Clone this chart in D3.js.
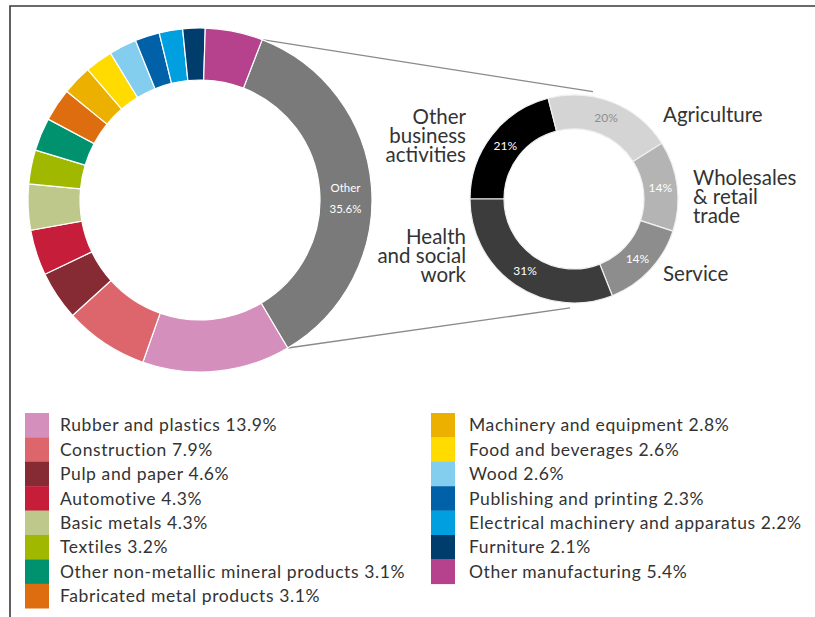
<!DOCTYPE html>
<html>
<head>
<meta charset="utf-8">
<script src="https://cdn.jsdelivr.net/npm/d3@7"></script>
<style>
  body { margin: 0; background: #fff; }
  text { font-family: Lato, "Noto Sans", sans-serif; }
</style>
</head>
<body>
<svg id="chart" width="815" height="617"></svg>
<script>
// big donut (manufacturing sectors), clockwise from "Other"
var sectors = ["Other", "Rubber and plastics", "Construction", "Pulp and paper", "Automotive",
  "Basic metals", "Textiles", "Other non-metallic mineral products", "Fabricated metal products",
  "Machinery and equipment", "Food and beverages", "Wood", "Publishing and printing",
  "Electrical machinery and apparatus", "Furniture", "Other manufacturing"];
var sectorValues = [35.6, 13.9, 7.9, 4.6, 4.3, 4.3, 3.2, 3.1, 3.1, 2.8, 2.6, 2.6, 2.3, 2.2, 2.1, 5.4];
var sectorColors = ["#7a7a7a", "#d58fbc", "#dc666c", "#862b33", "#c51d3a", "#bec88a", "#a0b900",
  "#00926f", "#de6d10", "#ecb100", "#ffdb00", "#83cdee", "#0061a8", "#00a0e0", "#003d6d", "#b6418d"];

// small donut (breakdown of "Other"), clockwise from 9 o'clock
var otherCats = ["Other business activities", "Agriculture", "Wholesales & retail trade", "Service", "Health and social work"];
var otherValues = [21, 20, 14, 14, 31];
var otherColors = ["#000000", "#d4d4d4", "#b4b4b4", "#8d8d8d", "#3c3c3c"];
var otherLabelColors = ["#fff", "#8f8f8f", "#fff", "#fff", "#fff"];

var svg = d3.select("#chart");
var deg = Math.PI / 180;

// frame
svg.append("path")
    .attr("d", "M10,617V6H815")
    .attr("fill", "none")
    .attr("stroke", "#3a3a3a")
    .attr("stroke-width", 1.6);

// ---- big donut
var bigC = [200, 200], bigR = 172, bigr = 120;
var bigStart = 21.2 * deg;

var bigPie = d3.pie().sort(null)
    .startAngle(bigStart).endAngle(bigStart + 2 * Math.PI)
    .value(d => d.v);
var bigArc = d3.arc().innerRadius(bigr).outerRadius(bigR);

var bigData = bigPie(sectors.map((s, i) => ({ name: s, v: sectorValues[i], c: sectorColors[i] })));

// small donut geometry (needed for connector lines)
var smC = [574, 199], smR = 104, smr = 70;

// connector lines from the "Other" slice to the small donut
var otherSlice = bigData[0];
var polar = (c, r, a) => [c[0] + r * Math.sin(a), c[1] - r * Math.cos(a)];
var lineG = svg.append("g");
[[otherSlice.startAngle, 10 * deg], [otherSlice.endAngle, 182 * deg]].forEach(function (p) {
  var a = polar(bigC, bigR, p[0]), b = polar(smC, smR + 5, p[1]);
  lineG.append("line")
      .attr("x1", a[0]).attr("y1", a[1])
      .attr("x2", b[0]).attr("y2", b[1])
      .attr("stroke", "#8a8a8a")
      .attr("stroke-width", 1.3);
});

var bigG = svg.append("g").attr("transform", "translate(" + bigC + ")");
bigG.selectAll("path")
    .data(bigData)
    .enter().append("path")
    .attr("d", bigArc)
    .attr("fill", d => d.data.c)
    .attr("stroke", "#fff")
    .attr("stroke-width", 1.2);

var oc = bigArc.centroid(otherSlice);
var otherLbl = bigG.append("text")
    .attr("text-anchor", "middle")
    .attr("fill", "#fff")
    .attr("font-size", 11.5);
otherLbl.append("tspan").attr("x", oc[0]).attr("y", oc[1] + 4).text(sectors[0]);
otherLbl.append("tspan").attr("x", oc[0]).attr("y", oc[1] + 25).text(sectorValues[0] + "%");

// ---- small donut
var smPie = d3.pie().sort(null)
    .startAngle(-Math.PI / 2).endAngle(1.5 * Math.PI)
    .value(d => d);
var smArc = d3.arc().innerRadius(smr).outerRadius(smR);
var smData = smPie(otherValues);

var smG = svg.append("g").attr("transform", "translate(" + smC + ")");
smG.selectAll("path")
    .data(smData)
    .enter().append("path")
    .attr("d", smArc)
    .attr("fill", (d, i) => otherColors[i])
    .attr("stroke", "#f0f0f0")
    .attr("stroke-width", 1.2);

smG.selectAll("text.pct")
    .data(smData)
    .enter().append("text")
    .attr("class", "pct")
    .attr("transform", d => "translate(" + smArc.centroid(d) + ")")
    .attr("dy", "0.35em")
    .attr("text-anchor", "middle")
    .attr("font-size", 12)
    .attr("fill", (d, i) => otherLabelColors[i])
    .text(d => d.data + "%");

// category names around the small donut, one text per line
var nameLines = [
  ["Other", "business", "activities"],
  ["Agriculture"],
  ["Wholesales", "& retail", "trade"],
  ["Service"],
  ["Health", "and social", "work"]
];
var namePos = [[466, 124, "end"], [663, 122, "start"], [693, 185, "start"], [663, 281, "start"], [466, 244, "end"]];

nameLines.forEach(function (lines, i) {
  lines.forEach(function (l, j) {
    svg.append("text")
        .attr("x", namePos[i][0])
        .attr("y", namePos[i][1] + j * 19)
        .attr("font-size", 20.5)
        .attr("fill", "#333")
        .attr("text-anchor", namePos[i][2])
        .text(l);
  });
});

// ---- legend (all sectors except "Other")
var legendItems = d3.range(1, sectors.length);
var rowH = 24.4;
var legend = svg.append("g");
legendItems.forEach(function (k, i) {
  var col = i < 8 ? 0 : 1;
  var row = col ? i - 8 : i;
  var x = col ? 431 : 25, y = 413 + row * rowH;
  legend.append("rect")
      .attr("x", x).attr("y", y)
      .attr("width", 24).attr("height", rowH + 0.3)
      .attr("fill", sectorColors[k]);
  legend.append("text")
      .attr("x", x + (col ? 38 : 35)).attr("y", y + rowH / 2)
      .attr("dy", "0.35em")
      .attr("font-size", 17.5)
      .attr("letter-spacing", 0.6)
      .attr("fill", "#333")
      .text(sectors[k] + " " + sectorValues[k] + "%");
});
</script>
</body>
</html>
